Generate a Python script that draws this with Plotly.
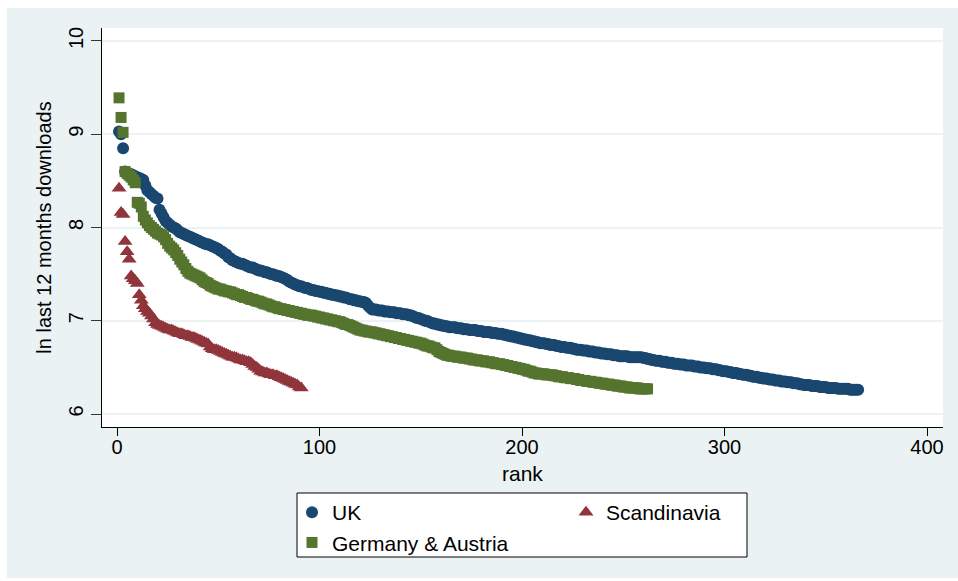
import plotly.graph_objects as go

# ln of last-12-month downloads, sorted descending within each region (rank = position)
uk_values = [
    9.03, 9.00, 8.85, 8.60, 8.58, 8.57, 8.57, 8.56, 8.55, 8.54,
    8.53, 8.52, 8.51, 8.45, 8.40, 8.38, 8.36, 8.34, 8.32, 8.31,
    8.19, 8.15, 8.11, 8.07, 8.05, 8.03, 8.01, 8.00, 7.99, 7.97,
    7.95, 7.94, 7.93, 7.92, 7.91, 7.90, 7.89, 7.88, 7.87, 7.86,
    7.85, 7.84, 7.83, 7.82, 7.82, 7.81, 7.80, 7.79, 7.78, 7.77,
    7.75, 7.74, 7.72, 7.71, 7.68, 7.67, 7.65, 7.64, 7.63, 7.62,
    7.61, 7.61, 7.60, 7.59, 7.58, 7.57, 7.57, 7.56, 7.55, 7.54,
    7.54, 7.53, 7.52, 7.52, 7.51, 7.50, 7.50, 7.49, 7.48, 7.48,
    7.47, 7.46, 7.45, 7.44, 7.42, 7.41, 7.40, 7.39, 7.38, 7.37,
    7.37, 7.36, 7.35, 7.35, 7.34, 7.33, 7.33, 7.32, 7.32, 7.31,
    7.31, 7.30, 7.30, 7.29, 7.29, 7.28, 7.28, 7.27, 7.27, 7.26,
    7.26, 7.25, 7.25, 7.24, 7.23, 7.23, 7.22, 7.22, 7.21, 7.21,
    7.20, 7.20, 7.19, 7.16, 7.14, 7.12, 7.12, 7.12, 7.11, 7.11,
    7.11, 7.10, 7.10, 7.10, 7.09, 7.09, 7.09, 7.08, 7.08, 7.08,
    7.07, 7.07, 7.07, 7.06, 7.06, 7.05, 7.04, 7.03, 7.03, 7.02,
    7.01, 7.00, 7.00, 6.99, 6.98, 6.97, 6.97, 6.96, 6.96, 6.95,
    6.95, 6.94, 6.94, 6.93, 6.93, 6.93, 6.93, 6.92, 6.92, 6.92,
    6.91, 6.91, 6.91, 6.90, 6.90, 6.90, 6.90, 6.89, 6.89, 6.89,
    6.88, 6.88, 6.88, 6.88, 6.87, 6.87, 6.87, 6.86, 6.86, 6.86,
    6.85, 6.85, 6.84, 6.84, 6.83, 6.83, 6.82, 6.82, 6.81, 6.81,
    6.80, 6.80, 6.79, 6.79, 6.78, 6.78, 6.77, 6.77, 6.76, 6.76,
    6.76, 6.75, 6.75, 6.74, 6.74, 6.74, 6.73, 6.73, 6.72, 6.72,
    6.72, 6.71, 6.71, 6.71, 6.70, 6.70, 6.69, 6.69, 6.69, 6.68,
    6.68, 6.68, 6.67, 6.67, 6.67, 6.66, 6.66, 6.66, 6.65, 6.65,
    6.65, 6.64, 6.64, 6.64, 6.63, 6.63, 6.63, 6.62, 6.62, 6.62,
    6.62, 6.62, 6.61, 6.61, 6.61, 6.61, 6.61, 6.61, 6.61, 6.60,
    6.60, 6.59, 6.59, 6.58, 6.58, 6.57, 6.57, 6.57, 6.56, 6.56,
    6.56, 6.55, 6.55, 6.55, 6.54, 6.54, 6.54, 6.53, 6.53, 6.53,
    6.52, 6.52, 6.52, 6.52, 6.51, 6.51, 6.51, 6.50, 6.50, 6.50,
    6.49, 6.49, 6.49, 6.48, 6.48, 6.48, 6.47, 6.47, 6.46, 6.46,
    6.46, 6.45, 6.45, 6.44, 6.44, 6.44, 6.43, 6.43, 6.42, 6.42,
    6.42, 6.41, 6.41, 6.40, 6.40, 6.40, 6.39, 6.39, 6.38, 6.38,
    6.38, 6.37, 6.37, 6.37, 6.36, 6.36, 6.36, 6.35, 6.35, 6.35,
    6.34, 6.34, 6.34, 6.33, 6.33, 6.33, 6.32, 6.32, 6.31, 6.31,
    6.31, 6.31, 6.30, 6.30, 6.30, 6.30, 6.29, 6.29, 6.29, 6.29,
    6.28, 6.28, 6.28, 6.28, 6.28, 6.27, 6.27, 6.27, 6.27, 6.27,
    6.27, 6.26, 6.26, 6.26, 6.26, 6.26,
]

de_at_values = [
    9.39, 9.18, 9.02, 8.60, 8.58, 8.56, 8.54, 8.51, 8.48, 8.27,
    8.26, 8.22, 8.12, 8.08, 8.05, 8.02, 8.00, 7.98, 7.96, 7.94,
    7.93, 7.92, 7.90, 7.87, 7.83, 7.80, 7.78, 7.76, 7.73, 7.70,
    7.66, 7.63, 7.60, 7.56, 7.53, 7.51, 7.50, 7.49, 7.48, 7.47,
    7.46, 7.44, 7.42, 7.41, 7.40, 7.38, 7.37, 7.36, 7.35, 7.34,
    7.34, 7.33, 7.32, 7.32, 7.31, 7.31, 7.30, 7.29, 7.28, 7.28,
    7.27, 7.26, 7.25, 7.25, 7.24, 7.23, 7.23, 7.22, 7.21, 7.21,
    7.20, 7.19, 7.18, 7.18, 7.17, 7.16, 7.15, 7.15, 7.14, 7.13,
    7.13, 7.12, 7.12, 7.11, 7.11, 7.10, 7.10, 7.09, 7.09, 7.08,
    7.08, 7.07, 7.07, 7.06, 7.06, 7.06, 7.05, 7.05, 7.04, 7.04,
    7.03, 7.03, 7.02, 7.02, 7.01, 7.01, 7.00, 7.00, 6.99, 6.99,
    6.98, 6.97, 6.96, 6.96, 6.95, 6.94, 6.93, 6.92, 6.91, 6.90,
    6.90, 6.89, 6.89, 6.88, 6.88, 6.88, 6.87, 6.87, 6.86, 6.86,
    6.85, 6.85, 6.84, 6.84, 6.83, 6.83, 6.82, 6.82, 6.81, 6.81,
    6.80, 6.80, 6.79, 6.79, 6.78, 6.78, 6.77, 6.77, 6.76, 6.76,
    6.75, 6.74, 6.73, 6.73, 6.72, 6.71, 6.71, 6.69, 6.67, 6.66,
    6.65, 6.64, 6.63, 6.63, 6.62, 6.62, 6.62, 6.61, 6.61, 6.61,
    6.60, 6.60, 6.60, 6.59, 6.59, 6.58, 6.58, 6.58, 6.57, 6.57,
    6.57, 6.56, 6.56, 6.56, 6.55, 6.55, 6.54, 6.54, 6.54, 6.53,
    6.53, 6.52, 6.52, 6.51, 6.51, 6.50, 6.50, 6.49, 6.49, 6.48,
    6.48, 6.47, 6.46, 6.46, 6.45, 6.44, 6.44, 6.43, 6.43, 6.43,
    6.43, 6.42, 6.42, 6.42, 6.42, 6.41, 6.41, 6.40, 6.40, 6.40,
    6.39, 6.39, 6.39, 6.38, 6.38, 6.38, 6.37, 6.37, 6.36, 6.36,
    6.36, 6.35, 6.35, 6.35, 6.34, 6.34, 6.34, 6.33, 6.33, 6.33,
    6.32, 6.32, 6.32, 6.31, 6.31, 6.31, 6.30, 6.30, 6.30, 6.29,
    6.29, 6.29, 6.28, 6.28, 6.28, 6.28, 6.28, 6.27, 6.27, 6.27,
    6.27, 6.27,
]

scandinavia_values = [
    8.42, 8.16, 8.14, 7.85, 7.74, 7.66, 7.48, 7.45, 7.43, 7.40,
    7.28, 7.22, 7.16, 7.13, 7.10, 7.08, 7.05, 7.02, 6.98, 6.96,
    6.95, 6.94, 6.93, 6.92, 6.91, 6.90, 6.90, 6.89, 6.88, 6.87,
    6.86, 6.86, 6.85, 6.84, 6.84, 6.83, 6.82, 6.82, 6.81, 6.80,
    6.79, 6.78, 6.77, 6.76, 6.75, 6.72, 6.70, 6.69, 6.69, 6.68,
    6.67, 6.66, 6.65, 6.64, 6.63, 6.62, 6.61, 6.61, 6.60, 6.59,
    6.58, 6.58, 6.57, 6.56, 6.56, 6.55, 6.53, 6.51, 6.50, 6.48,
    6.46, 6.45, 6.44, 6.44, 6.43, 6.42, 6.42, 6.41, 6.41, 6.40,
    6.39, 6.38, 6.37, 6.36, 6.35, 6.34, 6.33, 6.32, 6.31, 6.29,
    6.28,
]

x_ticks = [0, 100, 200, 300, 400]
y_ticks = [6, 7, 8, 9, 10]

NAVY = "#1a476f"
MAROON = "#90353b"
FOREST = "#55752f"
BLUISH = "#eaf2f3"
FONT = "Liberation Sans, Arial, sans-serif"

W, H = 958, 581
L, R, T, B = 102, 15, 28, 154
PW, PH = W - L - R, H - T - B


def px_x(p):
    return (p - L) / PW


def px_y(p):
    return (H - B - p) / PH


def ranks(vals):
    return list(range(1, len(vals) + 1))


fig = go.Figure()
fig.add_trace(go.Scatter(
    x=ranks(uk_values), y=uk_values, mode="markers", name="UK",
    marker=dict(symbol="circle", size=12, color=NAVY, line=dict(width=0)),
    legend="legend",
))
fig.add_trace(go.Scatter(
    x=ranks(scandinavia_values), y=scandinavia_values, mode="markers", name="Scandinavia",
    marker=dict(symbol="triangle-up", size=13, color=MAROON, line=dict(width=0)),
    legend="legend2",
))
fig.add_trace(go.Scatter(
    x=ranks(de_at_values), y=de_at_values, mode="markers", name="Germany & Austria",
    marker=dict(symbol="square", size=11, color=FOREST, line=dict(width=0)),
    legend="legend",
))

shapes = [
    # white outer frame around the bluish graph region
    dict(type="rect", xref="paper", yref="paper", layer="below",
         x0=px_x(0), x1=px_x(7), y0=px_y(H), y1=px_y(0),
         fillcolor="white", line=dict(width=0)),
    dict(type="rect", xref="paper", yref="paper", layer="below",
         x0=px_x(0), x1=px_x(W), y0=px_y(8), y1=px_y(0),
         fillcolor="white", line=dict(width=0)),
    dict(type="rect", xref="paper", yref="paper", layer="below",
         x0=px_x(0), x1=px_x(W), y0=px_y(H), y1=px_y(578),
         fillcolor="white", line=dict(width=0)),
    # legend box
    dict(type="rect", xref="paper", yref="paper", layer="below",
         x0=px_x(297), x1=px_x(747), y0=px_y(557), y1=px_y(493),
         fillcolor="white", line=dict(color="black", width=1)),
]

legend_font = dict(family=FONT, size=21, color="black")
tick_font = dict(family=FONT, size=20, color="black")
title_font = dict(family=FONT, size=21, color="black")

fig.update_layout(
    width=W, height=H, autosize=False,
    margin=dict(l=L, r=R, t=T, b=B),
    paper_bgcolor=BLUISH,
    plot_bgcolor="white",
    font=dict(family=FONT, size=20, color="black"),
    shapes=shapes,
    showlegend=True,
    legend=dict(
        x=px_x(292), y=px_y(492), xanchor="left", yanchor="top",
        bgcolor="rgba(0,0,0,0)", borderwidth=0, font=legend_font,
        orientation="v", tracegroupgap=0,
    ),
    legend2=dict(
        x=px_x(566), y=px_y(492), xanchor="left", yanchor="top",
        bgcolor="rgba(0,0,0,0)", borderwidth=0, font=legend_font,
        orientation="v",
    ),
    annotations=[
        dict(text="rank", xref="paper", yref="paper", x=0.5, y=px_y(460),
             xanchor="center", yanchor="top", showarrow=False, font=title_font),
    ],
    xaxis=dict(
        range=[-7.41, 407.9], tickvals=x_ticks, ticktext=[str(v) for v in x_ticks],
        showgrid=False, zeroline=False,
        showline=True, linecolor="black", linewidth=1,
        ticks="outside", ticklen=8, tickcolor="black", tickwidth=1,
        ticklabelstandoff=-6,
        tickfont=tick_font,
        automargin=False,
    ),
    yaxis=dict(
        range=[5.861, 10.139], tickvals=y_ticks, ticktext=[str(v) for v in y_ticks],
        showgrid=True, gridcolor=BLUISH, gridwidth=2, zeroline=False,
        showline=True, linecolor="black", linewidth=1,
        ticks="outside", ticklen=10, tickcolor="#333333", tickwidth=1,
        tickangle=-90,
        tickfont=dict(family=FONT, size=20, color="black"),
        title=dict(text="ln last 12 months downloads",
                   font=dict(family=FONT, size=20, color="black"), standoff=8),
        automargin=False,
    ),
)

fig.write_html("out.html")
